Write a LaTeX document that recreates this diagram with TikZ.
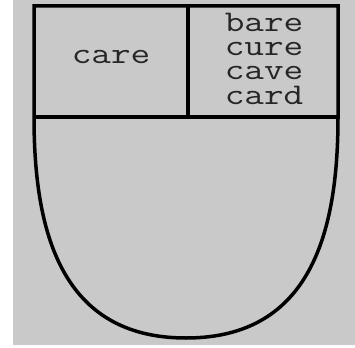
\documentclass[tikz,border=0pt]{standalone}
\usepackage{fontspec}
\definecolor{bgray}{RGB}{201,201,201}
\newcommand{\wdtext}[1]{\scalebox{1.27}[1]{#1}}
\tikzset{
  outline/.style={draw=black, line width=3.5pt, line join=miter},
  word/.style={font=\ttfamily\fontsize{30}{24}\selectfont, text=black!85, inner sep=0pt, anchor=base}
}
\begin{document}
\begin{tikzpicture}[x=1pt,y=-1pt]
\useasboundingbox (0,0) rectangle (355,347);
\fill[white] (0,0) rectangle (355,347);
\fill[bgray] (13,0) rectangle (355,345);
% mouse body
\draw[outline] (34,117) -- (34,6) -- (338,6) -- (338,117)
  .. controls (338,230) and (312,338) .. (186,338)
  .. controls (60,338) and (34,230) .. (34,117) -- cycle;
\draw[outline] (34,117) -- (338,117);
\draw[outline] (188,6) -- (188,117);
% labels
\node[word] (care) at (111,64) {\wdtext{care}};
\node[word] (w1) at (264,32) {\wdtext{bare}};
\node[word] (w2) at (264,56) {\wdtext{cure}};
\node[word] (w3) at (264,80) {\wdtext{cave}};
\node[word] (w4) at (264,105) {\wdtext{card}};
\end{tikzpicture}
\end{document}
